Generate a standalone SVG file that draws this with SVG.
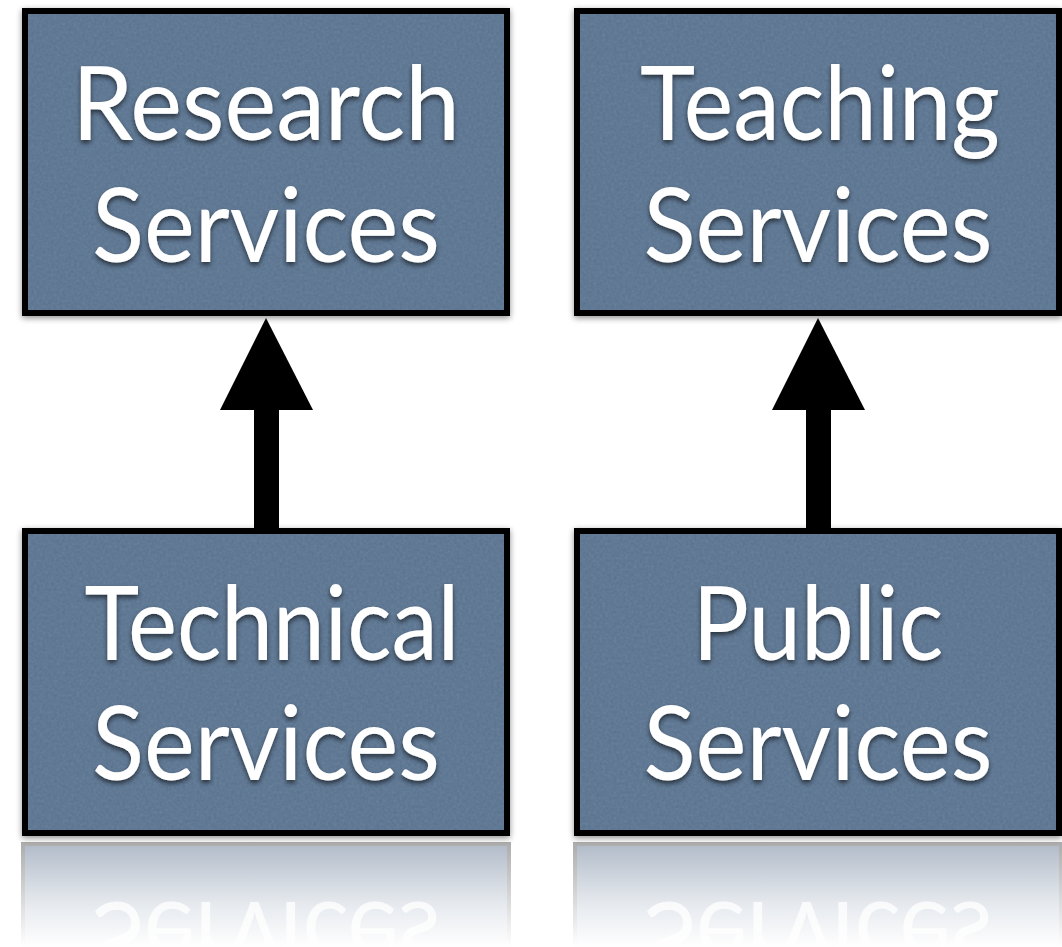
<svg xmlns="http://www.w3.org/2000/svg" width="1062" height="947" viewBox="0 0 1062 947">
<style>
.box{fill:#57718e;stroke:#000;stroke-width:6}
.lbl{font-family:Lato,"Open Sans","Liberation Sans",sans-serif;font-size:102px;fill:#fff;text-anchor:middle}
.refl{font-family:Lato,"Open Sans","Liberation Sans",sans-serif;font-size:102px;fill:#fff;text-anchor:middle;opacity:0.8}
.arrow{fill:#000}
</style>
<defs>
<filter id="boxsh" x="-5%" y="-5%" width="110%" height="110%">
<feGaussianBlur in="SourceAlpha" stdDeviation="3"/>
<feOffset dx="0" dy="2" result="b"/>
<feComponentTransfer in="b" result="bs"><feFuncA type="linear" slope="0.45"/></feComponentTransfer>
<feMerge><feMergeNode in="bs"/><feMergeNode in="SourceGraphic"/></feMerge>
</filter>
<filter id="tex" x="0" y="0" width="100%" height="100%">
<feTurbulence type="fractalNoise" baseFrequency="0.35" numOctaves="2" seed="3" result="n"/>
<feColorMatrix in="n" type="matrix" values="0 0 0 0 0.42  0 0 0 0 0.52  0 0 0 0 0.64  0 0 0 0.16 0" result="nc"/>
<feComposite in="nc" in2="SourceGraphic" operator="in" result="nm"/>
<feMerge><feMergeNode in="SourceGraphic"/><feMergeNode in="nm"/></feMerge>
</filter>
<filter id="txtsh" x="-5%" y="-10%" width="110%" height="130%">
<feGaussianBlur in="SourceAlpha" stdDeviation="2.5"/>
<feOffset dx="0" dy="3" result="b"/>
<feComponentTransfer in="b" result="bs"><feFuncA type="linear" slope="0.6"/></feComponentTransfer>
<feMerge><feMergeNode in="bs"/><feMergeNode in="SourceGraphic"/></feMerge>
</filter>
<linearGradient id="rg" x1="0" y1="0" x2="0" y2="1">
<stop offset="0" stop-color="#b3bdca"/>
<stop offset="0.55" stop-color="#e4e8ed"/>
<stop offset="1" stop-color="#ffffff"/>
</linearGradient>
<linearGradient id="rgEdge" x1="0" y1="0" x2="0" y2="1">
<stop offset="0" stop-color="#888" stop-opacity="0.7"/>
<stop offset="1" stop-color="#888" stop-opacity="0"/>
</linearGradient>
<clipPath id="clipL"><rect x="27" y="846" width="478" height="101"/></clipPath>
<clipPath id="clipR"><rect x="579" y="846" width="478" height="101"/></clipPath>
</defs>
<rect width="1062" height="947" fill="#fff"/>

<g id="reflections">
<rect x="21" y="842" width="490" height="105" fill="url(#rgEdge)"/>
<rect x="25" y="846" width="482" height="101" fill="url(#rg)"/>
<g clip-path="url(#clipL)"><text class="refl" transform="translate(266,902) scale(1,-1)" textLength="348" lengthAdjust="spacingAndGlyphs">Services</text></g>
<rect x="573" y="842" width="490" height="105" fill="url(#rgEdge)"/>
<rect x="577" y="846" width="482" height="101" fill="url(#rg)"/>
<g clip-path="url(#clipR)"><text class="refl" transform="translate(818,902) scale(1,-1)" textLength="348" lengthAdjust="spacingAndGlyphs">Services</text></g>
</g>

<g id="connectors">
<g id="arrow1"><rect class="arrow" x="254" y="405" width="25" height="125"/><polygon class="arrow" points="266,318 313,410 220,410"/></g>
<g id="arrow2"><rect class="arrow" x="806" y="405" width="25" height="125"/><polygon class="arrow" points="818,318 865,410 772,410"/></g>
</g>

<g id="research">
<rect class="box" x="25" y="11" width="482" height="302" filter="url(#boxsh)"/>
<rect x="28" y="14" width="476" height="296" fill="#57718e" filter="url(#tex)"/>
<g filter="url(#txtsh)">
<text class="lbl" x="266" y="140" textLength="388" lengthAdjust="spacingAndGlyphs">Research</text>
<text class="lbl" x="266" y="262" textLength="348" lengthAdjust="spacingAndGlyphs">Services</text>
</g>
</g>

<g id="teaching">
<rect class="box" x="577" y="11" width="482" height="302" filter="url(#boxsh)"/>
<rect x="580" y="14" width="476" height="296" fill="#57718e" filter="url(#tex)"/>
<g filter="url(#txtsh)">
<text class="lbl" x="820" y="140" textLength="360" lengthAdjust="spacingAndGlyphs">Teaching</text>
<text class="lbl" x="818" y="262" textLength="349" lengthAdjust="spacingAndGlyphs">Services</text>
</g>
</g>

<g id="technical">
<rect class="box" x="25" y="531" width="482" height="302" filter="url(#boxsh)"/>
<rect x="28" y="534" width="476" height="296" fill="#57718e" filter="url(#tex)"/>
<g filter="url(#txtsh)">
<text class="lbl" x="272" y="660" textLength="375" lengthAdjust="spacingAndGlyphs">Technical</text>
<text class="lbl" x="266" y="780" textLength="348" lengthAdjust="spacingAndGlyphs">Services</text>
</g>
</g>

<g id="public">
<rect class="box" x="577" y="531" width="482" height="302" filter="url(#boxsh)"/>
<rect x="580" y="534" width="476" height="296" fill="#57718e" filter="url(#tex)"/>
<g filter="url(#txtsh)">
<text class="lbl" x="818" y="660" textLength="251" lengthAdjust="spacingAndGlyphs">Public</text>
<text class="lbl" x="818" y="780" textLength="349" lengthAdjust="spacingAndGlyphs">Services</text>
</g>
</g>
</svg>
